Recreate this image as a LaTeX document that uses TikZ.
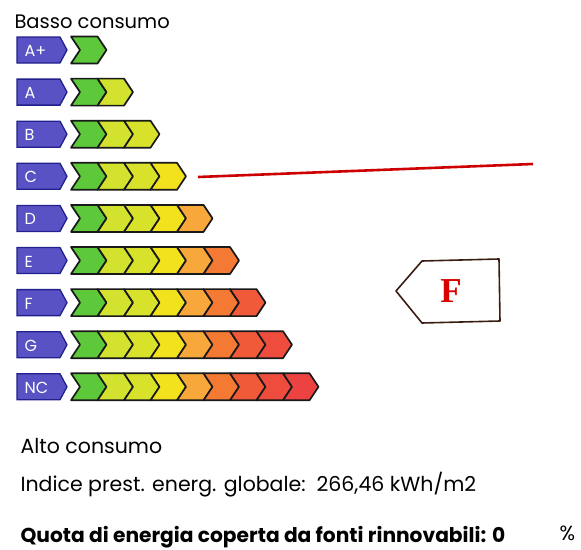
\documentclass[tikz,border=0pt]{standalone}
\usepackage{fontspec}
\setmainfont{Poppins}
\newfontfamily\serifbold{Liberation Serif}
\definecolor{c1}{HTML}{5CC83A}
\definecolor{c2}{HTML}{D2E22E}
\definecolor{c3}{HTML}{D8E22A}
\definecolor{c4}{HTML}{F2E21E}
\definecolor{c5}{HTML}{F8A83A}
\definecolor{c6}{HTML}{F47A34}
\definecolor{c7}{HTML}{F05A38}
\definecolor{c8}{HTML}{EE4C3C}
\definecolor{c9}{HTML}{EC4242}
\definecolor{labelblue}{HTML}{5852C4}
\definecolor{labeledge}{HTML}{22208C}
\definecolor{tagedge}{HTML}{3A1E14}
\begin{document}
\begin{tikzpicture}[x=1pt,y=-1pt,
        labelbox/.style={fill=labelblue,draw=labeledge,line width=1.3pt},
        labeltext/.style={anchor=west,text=white,font=\fontsize{16}{16}\selectfont},
        chevron/.style={draw=black!90,line width=1.7pt,line join=round},
        bodytext/.style={anchor=base west,font=\fontsize{20.5}{20.5}\selectfont}]
            \useasboundingbox (0,0) rectangle (581,549);
            \node[bodytext,font=\fontsize{19.5}{19.5}\selectfont] (basso) at (11,28) {Basso consumo};
            \foreach \lab [count=\i] in {A+,A,B,C,D,E,F,G,NC}
                {
                    \pgfmathsetmacro{\yc}{50+42.1*(\i-1)}
                    \filldraw[labelbox] (17,\yc-13) -- (60,\yc-13) -- (67,\yc) -- (60,\yc+13) -- (17,\yc+13) -- cycle;
                    \node[labeltext] (r\i) at (21,\yc+1) {\lab};
                    \foreach \k in {1,...,\i}
                        {
                            \pgfmathsetmacro{\xs}{71+26.5*(\k-1)}
                            \filldraw[chevron,fill=c\k] (\xs,\yc-13.5) -- ++(26.5,0) -- ++(9,13.5) -- ++(-9,13.5) -- ++(-26.5,0) -- ++(9,-13.5) -- cycle;
                        }
                }
            \coordinate (lineL) at (198,177);
            \coordinate (lineR) at (533,164);
            \draw[red!80!black,line width=2.6pt] (lineL) -- (lineR);
            \draw[tagedge,line width=1.6pt,line join=round] (396,291) -- (422,261) -- (499,259) -- (500,321) -- (422,323) -- cycle;
            \node[text=red!85!black,font=\fontsize{35}{35}\selectfont\serifbold\bfseries] (classe) at (451,291) {F};
            \node[bodytext] (alto) at (17,453) {Alto consumo};
            \node[bodytext] (indice) at (17,491) {Indice prest. energ. globale:\ \ 266,46 kWh/m2};
            \node[bodytext,font=\fontsize{20.2}{20.2}\selectfont\bfseries] (quota) at (17,542) {Quota di energia coperta da fonti rinnovabili: 0};
            \node[bodytext] (perc) at (556,540) {\%};
        \end{tikzpicture}
\end{document}
